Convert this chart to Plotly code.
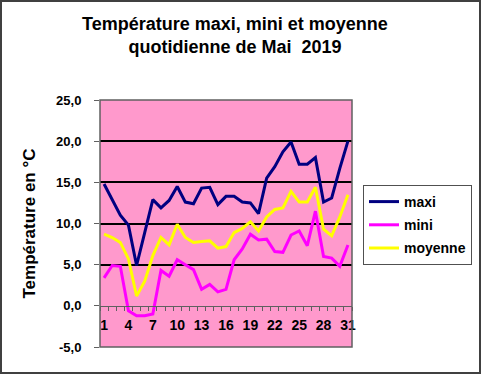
import plotly.graph_objects as go

days = list(range(1, 32))
maxi = [14.8, 12.8, 11.0, 9.8, 4.9, 8.9, 12.9, 11.9, 12.8, 14.5, 12.6, 12.4, 14.3, 14.4, 12.3,
        13.3, 13.3, 12.6, 12.5, 11.2, 15.5, 16.9, 18.7, 19.9, 17.2, 17.2, 18.0, 12.6, 13.1, 16.7, 20.0]
mini = [3.4, 4.9, 4.8, -0.6, -1.2, -1.2, -1.0, 4.3, 3.6, 5.6, 5.0, 4.4, 2.0, 2.6, 1.7,
        2.0, 5.6, 6.9, 8.7, 8.0, 8.1, 6.6, 6.5, 8.6, 9.1, 7.3, 11.5, 6.0, 5.8, 4.8, 7.4]
moyenne = [8.7, 8.3, 7.7, 5.7, 1.2, 3.0, 6.1, 8.3, 7.4, 9.9, 8.3, 7.7, 7.8, 7.9, 7.0,
           7.2, 8.9, 9.4, 10.2, 9.1, 10.8, 11.7, 11.9, 13.9, 12.6, 12.6, 14.4, 9.3, 8.5, 10.8, 13.5]
x_ticks = list(range(1, 32, 3))
y_ticks = [-5, 0, 5, 10, 15, 20, 25]
y_labels = ["-5,0", "0,0", "5,0", "10,0", "15,0", "20,0", "25,0"]

FONT = "Liberation Sans, Arial, sans-serif"
W, H = 482, 375
L, R, T, B = 100, 130, 100, 28
pw, ph = W - L - R, H - T - B

fig = go.Figure()
for name, vals, col in [("maxi", maxi, "#000080"), ("mini", mini, "#FF00FF"), ("moyenne", moyenne, "#FFFF00")]:
    fig.add_trace(go.Scatter(x=days, y=vals, mode="lines", name=name, legendgroup=name,
                             line=dict(color=col, width=3)))

fig.update_layout(
    template="none",
    width=W, height=H,
    margin=dict(l=L, r=R, t=T, b=B, autoexpand=False),
    paper_bgcolor="white", plot_bgcolor="#FF99CC",
    font=dict(family=FONT, color="black"),
    title=dict(text="<b>Température maxi, mini et moyenne<br>quotidienne de Mai  2019</b>",
               x=235 / W, xanchor="center", xref="container",
               y=1 - 30 / H, yanchor="middle", yref="container", font=dict(size=18, family=FONT)),
    legend=dict(x=(363 - L) / pw, y=(H - B - 185) / ph, xanchor="left", yanchor="top",
                bgcolor="white", bordercolor="#505050", borderwidth=1,
                font=dict(size=14, family=FONT, weight="bold"), itemwidth=30, tracegroupgap=2),
    showlegend=True,
)
fig.update_xaxes(
    range=[0.5, 31.5], tickmode="array", tickvals=x_ticks,
    ticktext=[f"<b>{d}</b>" for d in x_ticks], tickfont=dict(size=14),
    ticks="", showgrid=False, zeroline=False, automargin=False,
    showline=True, linecolor="#606060", linewidth=1,
    anchor="free", position=1 / 6, ticklabelstandoff=6,
    minor=dict(tick0=0.5, dtick=1, ticks="outside", ticklen=4, tickcolor="#606060", showgrid=False),
)
fig.update_yaxes(
    range=[-5, 25], tickmode="array", tickvals=y_ticks,
    ticktext=[f"<b>{t}</b>" for t in y_labels], tickfont=dict(size=13),
    ticks="outside", ticklen=5, tickcolor="#606060", ticklabelstandoff=10,
    showgrid=False, zeroline=False, showline=False, automargin=False,
    minor=dict(tickmode="array", tickvals=[5, 10, 15, 20], showgrid=True, gridcolor="black", gridwidth=2, ticks=""),
    title=dict(text="<b>Température en °C</b>", font=dict(size=17), standoff=16),
)
# plot area border
fig.add_shape(type="rect", xref="x domain", yref="y domain", x0=0, x1=1, y0=0, y1=1,
              line=dict(color="#606060", width=1.5), layer="above")
# chart border
fig.add_shape(type="rect", xref="paper", yref="paper",
              x0=(1 - L) / pw, x1=(480 - L) / pw, y0=(H - B - 373) / ph, y1=(H - B - 1) / ph,
              line=dict(color="#404040", width=2), layer="above")

fig.write_html("out.html", config={"displayModeBar": False},
               post_script="document.body.style.margin='0';")
